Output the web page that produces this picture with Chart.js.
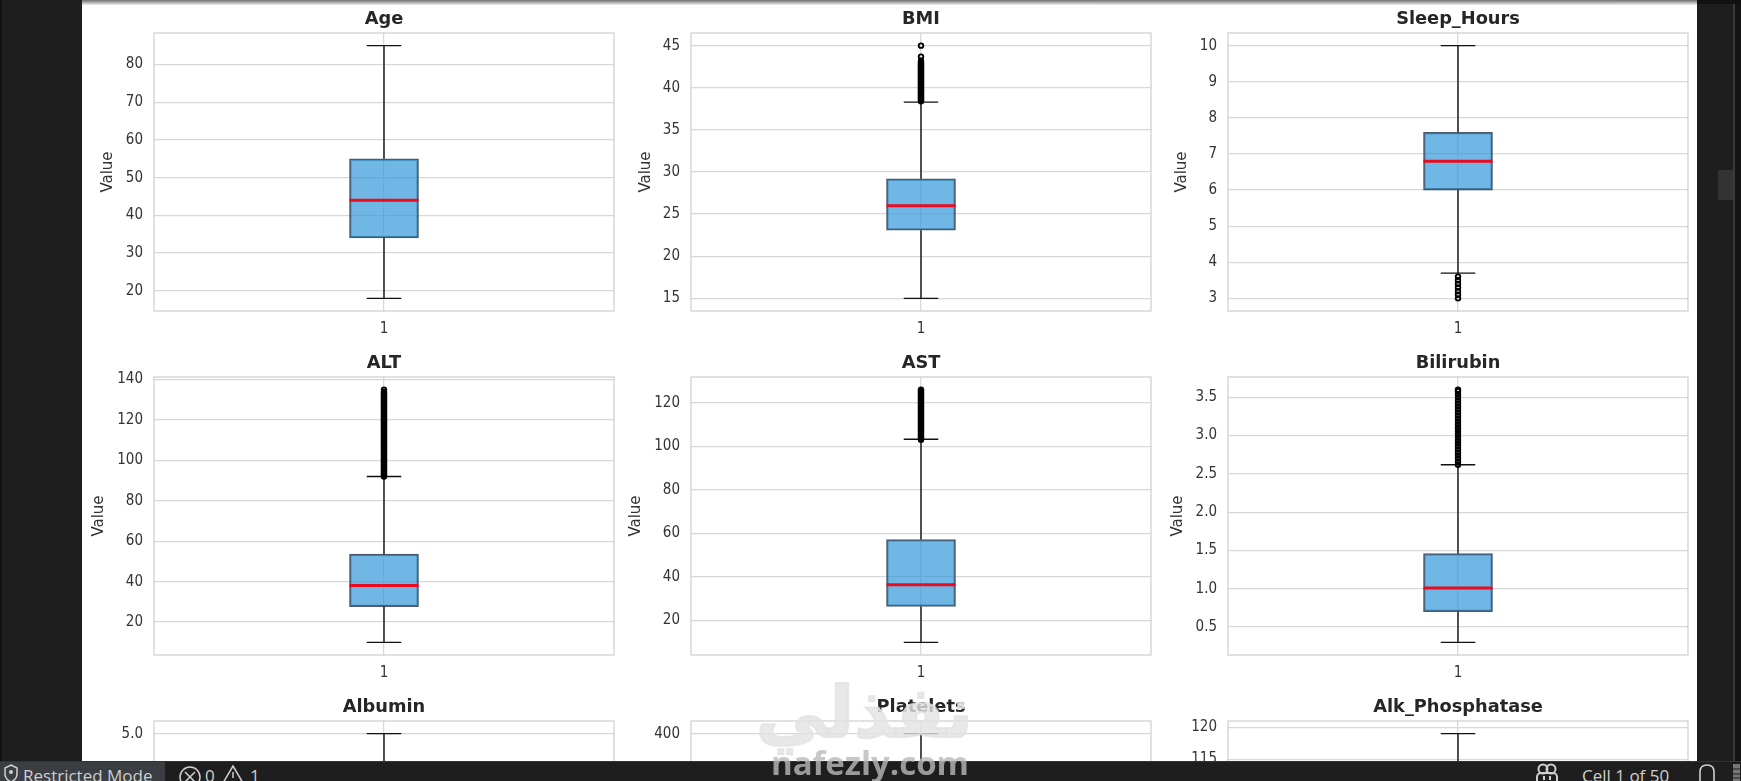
<!DOCTYPE html>
<html>
<head>
<meta charset="utf-8">
<script src="https://cdn.jsdelivr.net/npm/chart.js@4"></script>
<style>
html,body{margin:0;padding:0;width:1741px;height:781px;overflow:hidden;background:#1e1e1e;}
#page{position:absolute;left:82px;top:0;width:1615px;height:781px;background:#fff;}
#edgeL{position:absolute;left:0;top:0;width:2px;height:781px;background:#111;}
#edgeTop{position:absolute;left:82px;top:0;width:1615px;height:5px;background:linear-gradient(#6f6f6f,#f0f0f0);z-index:3;}
#edgeTopDark{position:absolute;left:1697px;top:0;width:44px;height:4px;background:#111;z-index:3;}
#rail{position:absolute;left:1733px;top:0;width:2px;height:781px;background:#3a3a3a;}
#railR{position:absolute;left:1735px;top:0;width:6px;height:781px;background:#141414;}
#thumb{position:absolute;left:1718px;top:170px;width:15px;height:30px;background:#333;}
canvas{position:absolute;display:block;}
#status{position:absolute;left:0;top:761px;width:1741px;height:20px;background:#1e1e1e;border-top:1px solid #333;box-sizing:border-box;z-index:5;overflow:hidden;font-family:"Open Sans",sans-serif;font-size:17px;color:#cfcfcf;}
#restricted{position:absolute;left:0;top:0;width:165px;height:20px;background:#3a3d41;}
.st{position:absolute;top:3px;line-height:22px;white-space:nowrap;}
#status svg{position:absolute;top:0;}
.mark{position:absolute;z-index:6;white-space:nowrap;pointer-events:none;}
#markAr{left:767px;top:663px;width:206px;text-align:center;font:bold 71px/100px "DejaVu Sans",sans-serif;color:rgba(226,226,226,.8);-webkit-text-stroke:2px rgba(226,226,226,.8);}
#markEn{left:770px;top:741px;width:200px;text-align:center;font:bold 33px/44px "Open Sans",sans-serif;color:rgba(185,185,185,.8);}
</style>
</head>
<body>
<div id="page"></div>
<div id="edgeL"></div><div id="edgeTop"></div><div id="edgeTopDark"></div>
<div id="rail"></div><div id="railR"></div><div id="thumb"></div>
<div id="host"></div>
<div id="status">
  <div id="restricted"></div>
  <svg style="left:2px" width="18" height="20" viewBox="0 0 18 20"><path d="M9 3 L15 6 V12 C15 17 11 19 9 20 C7 19 3 17 3 12 V6 Z" fill="none" stroke="#cfcfcf" stroke-width="1.5"/><circle cx="9" cy="10" r="2" fill="#cfcfcf"/></svg>
  <span class="st" style="left:23px">Restricted Mode</span>
  <svg style="left:178px" width="24" height="20" viewBox="0 0 24 20"><circle cx="12" cy="15" r="10" fill="none" stroke="#cfcfcf" stroke-width="1.5"/><path d="M7 10 L17 20 M17 10 L7 20" stroke="#cfcfcf" stroke-width="1.5"/></svg>
  <span class="st" style="left:205px">0</span>
  <svg style="left:222px" width="22" height="20" viewBox="0 0 22 20"><path d="M11 4 L21 21 H1 Z" fill="none" stroke="#cfcfcf" stroke-width="1.5"/><path d="M11 10 V16" stroke="#cfcfcf" stroke-width="1.5"/></svg>
  <span class="st" style="left:250px">1</span>
  <svg style="left:1534px" width="26" height="20" viewBox="0 0 26 20"><circle cx="9" cy="7" r="4.5" fill="none" stroke="#cfcfcf" stroke-width="2"/><circle cx="17" cy="7" r="4.5" fill="none" stroke="#cfcfcf" stroke-width="2"/><rect x="3" y="11" width="20" height="12" rx="4" fill="none" stroke="#cfcfcf" stroke-width="2"/><path d="M10 14 V18 M16 14 V18" stroke="#cfcfcf" stroke-width="2"/></svg>
  <span class="st" style="left:1582px">Cell 1 of 50</span>
  <svg style="left:1697px" width="20" height="20" viewBox="0 0 20 20"><path d="M3 22 V10 C3 5 6 3 10 3 C14 3 17 5 17 10 V22" fill="none" stroke="#cfcfcf" stroke-width="1.6"/></svg>
  <svg style="left:1733px" width="8" height="20" viewBox="0 0 8 20"><rect x="0" y="2" width="7" height="18" fill="#777"/><path d="M0 7H7M0 12H7M0 16H7" stroke="#1e1e1e"/></svg>
</div>
<div class="mark" id="markAr" dir="rtl">نفذلي</div>
<div class="mark" id="markEn">nafezly.com</div>

<script>
// ---- Data ----
const titles = ['Age','BMI','Sleep_Hours','ALT','AST','Bilirubin','Albumin','Platelets','Alk_Phosphatase'];
const lowWhiskers  = [18, 15, 3.7, 10, 10, 0.3, 2.0, 50, 80];
const lowerQuarts  = [34, 23.1, 6.0, 27.7, 26.5, 0.7, 3.2, 180, 95];
const medians      = [44, 26, 6.8, 38.1, 36.5, 1.01, 3.6, 235, 100];
const upperQuarts  = [55, 29.2, 7.6, 53.7, 57.2, 1.46, 4.0, 290, 105];
const highWhiskers = [85, 38.3, 10, 92, 103.2, 2.62, 5.0, 400, 119];

const ageOutliers = [];
const bmiOutliers = [38.4,38.5,38.6,38.7,38.8,38.9,39.0,39.1,39.2,39.3,39.4,39.5,39.6,39.7,39.8,39.9,40.0,40.1,40.2,40.3,40.4,40.5,40.6,40.7,40.8,40.9,41.0,41.1,41.2,41.3,41.4,41.5,41.6,41.7,41.8,41.9,42.0,42.1,42.2,42.3,42.4,42.5,42.6,42.7,42.8,42.9,43.0,43.2,43.7,45.0];
const sleepOutliers = [3.0,3.1,3.2,3.3,3.4,3.5,3.6];
const altOutliers = [92,92.5,93,93.5,94,94.5,95,95.5,96,96.5,97,97.5,98,98.5,99,99.5,100,100.5,101,101.5,102,102.5,103,103.5,104,104.5,105,105.5,106,106.5,107,107.5,108,108.5,109,109.5,110,110.5,111,111.5,112,112.5,113,113.5,114,114.5,115,115.5,116,116.5,117,117.5,118,118.5,119,119.5,120,120.5,121,121.5,122,122.5,123,123.5,124,124.5,125,125.5,126,126.5,127,127.5,128,128.5,129,129.5,130,130.5,131,131.5,132,132.5,133,133.5,134,135];
const astOutliers = [103,103.5,104,104.5,105,105.5,106,106.5,107,107.5,108,108.5,109,109.5,110,110.5,111,111.5,112,112.5,113,113.5,114,114.5,115,115.5,116,116.5,117,117.5,118,118.5,119,119.5,120,120.5,121,121.5,122,122.5,123,123.5,124,124.5,125,125.5,126];
const bilirubinOutliers = [2.62,2.66,2.70,2.74,2.78,2.82,2.86,2.90,2.94,2.98,3.02,3.06,3.10,3.14,3.18,3.22,3.26,3.30,3.34,3.38,3.42,3.46,3.50,3.54,3.58,3.60];
const albuminOutliers = [];
const plateletOutliers = [];
const alkOutliers = [];
const outlierLists = [ageOutliers,bmiOutliers,sleepOutliers,altOutliers,astOutliers,bilirubinOutliers,albuminOutliers,plateletOutliers,alkOutliers];

const ageTicks = ['20','30','40','50','60','70','80'];
const bmiTicks = ['15','20','25','30','35','40','45'];
const sleepTicks = ['3','4','5','6','7','8','9','10'];
const altTicks = ['20','40','60','80','100','120','140'];
const astTicks = ['20','40','60','80','100','120'];
const bilirubinTicks = ['0.5','1.0','1.5','2.0','2.5','3.0','3.5'];
const albuminTicks = ['2.0','2.5','3.0','3.5','4.0','4.5','5.0'];
const plateletTicks = ['50','100','150','200','250','300','350','400'];
const alkTicks = ['80','85','90','95','100','105','110','115','120'];
const tickLists = [ageTicks,bmiTicks,sleepTicks,altTicks,astTicks,bilirubinTicks,albuminTicks,plateletTicks,alkTicks];
const categoryLabels = ['1'];

// ---- Layout and style ----
const plotLefts = [154, 691, 1228];
const rowTops = [33, 377, 721];
const valueLabelCenters = [26, 26.7, 26, 16.8, 17, 21.8, 26, 26, 26];
const axisGutter = 72, plotWidth = 460, plotHeight = 278, titleBand = 33, rightPad = 6, bottomBand = 33;
const boxPixelWidth = 69, boxHalf = 0.075, capHalf = 0.0375;
const gridColor = '#d8d8d8', frameColor = '#d2d2d2', textColor = '#333333';
const tickFont = {family:'"DejaVu Sans Condensed","DejaVu Sans"', size:15};

const frame = {
  id:'frame',
  beforeDatasetsDraw(chart){
    const a = chart.chartArea, c = chart.ctx;
    c.save(); c.strokeStyle = frameColor; c.lineWidth = 1.3;
    c.strokeRect(a.left, a.top, a.right-a.left, a.bottom-a.top);
    c.restore();
  }
};

const segment = (pts, color, width, order) => ({
  type:'scatter', data:pts, showLine:true, borderColor:color, borderWidth:width,
  pointRadius:0, pointHoverRadius:0, order, borderCapStyle:'butt'
});

titles.forEach((title, i) => {
  const col = i % 3, row = Math.floor(i / 3);
  const cv = document.createElement('canvas');
  const cw = axisGutter + plotWidth + rightPad, ch = titleBand + plotHeight + bottomBand;
  cv.width = cw; cv.height = ch;
  cv.style.width = cw + 'px'; cv.style.height = ch + 'px';
  cv.style.left = (plotLefts[col] - axisGutter) + 'px';
  cv.style.top = (rowTops[row] - titleBand) + 'px';
  document.getElementById('host').appendChild(cv);

  const lo = Math.min(lowWhiskers[i], ...outlierLists[i]);
  const hi = Math.max(highWhiskers[i], ...outlierLists[i]);
  const span = hi - lo;
  const labels = tickLists[i];

  new Chart(cv.getContext('2d'), {
    data:{
      datasets:[
        {type:'bar', data:[{x:1, y:[lowerQuarts[i], upperQuarts[i]]}],
         backgroundColor:'rgba(52,152,219,0.7)', borderColor:'rgba(44,62,80,0.85)', borderWidth:1.6,
         borderSkipped:false, barThickness:boxPixelWidth, order:5},
        segment([{x:1,y:lowerQuarts[i]},{x:1,y:lowWhiskers[i]}], '#111', 1.4, 4),
        segment([{x:1,y:upperQuarts[i]},{x:1,y:highWhiskers[i]}], '#111', 1.4, 4),
        segment([{x:1-capHalf,y:lowWhiskers[i]},{x:1+capHalf,y:lowWhiskers[i]}], '#111', 1.4, 3),
        segment([{x:1-capHalf,y:highWhiskers[i]},{x:1+capHalf,y:highWhiskers[i]}], '#111', 1.4, 3),
        segment([{x:1-boxHalf,y:medians[i]},{x:1+boxHalf,y:medians[i]}], 'rgb(235,10,30)', 3, 1),
        {type:'scatter', data:outlierLists[i].map(v => ({x:1,y:v})), showLine:false,
         pointRadius:2.3, pointBorderWidth:1.8, pointBorderColor:'#000', pointBackgroundColor:'rgba(255,255,255,0)',
         pointHoverRadius:2.3, order:2}
      ]
    },
    options:{
      responsive:false, animation:false, devicePixelRatio:1,
      layout:{padding:{left:0,right:rightPad,top:0,bottom:0}},
      plugins:{
        legend:{display:false}, tooltip:{enabled:false},
        title:{display:true, text:title, color:'#262626',
               font:{family:'"DejaVu Sans"', size:17.8, weight:'bold', lineHeight:1.2},
               padding:{top:8.4, bottom:titleBand-8.4-21.36}, fullSize:false}
      },
      scales:{
        x:{
          type:'linear', min:0.5, max:1.5, offset:false,
          grid:{color:gridColor, lineWidth:1.3, drawTicks:false, offset:false},
          border:{display:false},
          ticks:{color:textColor, font:tickFont, padding:9, maxRotation:0, callback:(v)=>categoryLabels[0]},
          afterBuildTicks(a){ a.ticks = [{value:1}]; },
          afterFit(a){ a.height = bottomBand; }
        },
        y:{
          type:'linear', min:lo - 0.05*span, max:hi + 0.05*span,
          grid:{color:gridColor, lineWidth:1.3, drawTicks:false},
          border:{display:false},
          ticks:{color:textColor, font:tickFont, padding:11, callback:(v,idx)=>labels[idx]},
          title:{display:true, text:'Value', color:textColor, font:{family:'"DejaVu Sans"', size:15, lineHeight:1.2},
                 padding:{top:valueLabelCenters[i]-9, bottom:0}},
          afterBuildTicks(a){ a.ticks = labels.map(s => ({value:Number(s)})); },
          afterFit(a){ a.width = axisGutter; }
        }
      }
    },
    plugins:[frame]
  });
});
</script>
</body>
</html>
